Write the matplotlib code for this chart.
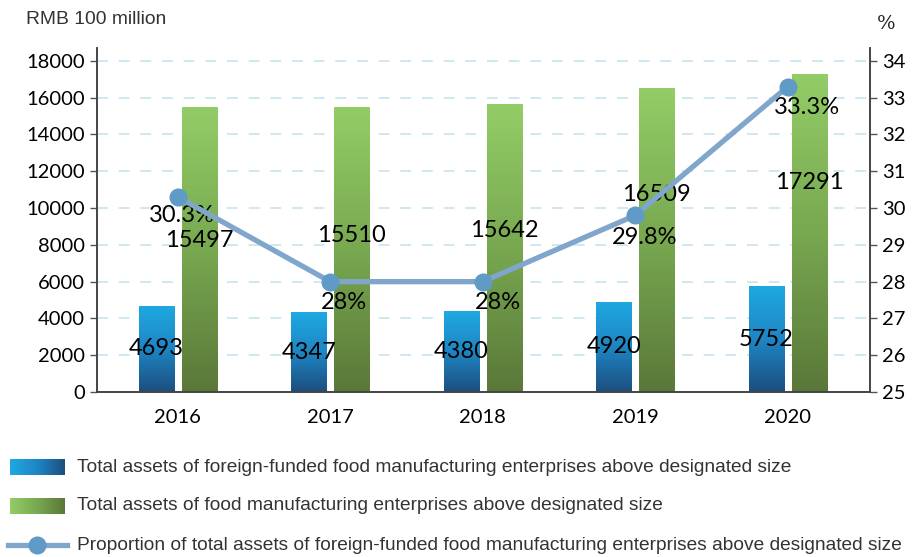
import numpy as np
import matplotlib
matplotlib.use('Agg')
import matplotlib.pyplot as plt
from matplotlib.colors import LinearSegmentedColormap
from matplotlib.lines import Line2D

years = ['2016', '2017', '2018', '2019', '2020']
foreign_assets = [4693, 4347, 4380, 4920, 5752]
total_assets = [15497, 15510, 15642, 16509, 17291]
proportion = [30.3, 28, 28, 29.8, 33.3]
# where the green value labels sit, as fraction of the bar height
total_label_frac = [0.533, 0.55, 0.563, 0.649, 0.66]
# offsets (points) of the percent labels from their markers
pct_dx = [3, 10, 11, 7, 14]
pct_dy = [-13, -15, -15, -16, -15]

legend_labels = [
    'Total assets of foreign-funded food manufacturing enterprises above designated size',
    'Total assets of food manufacturing enterprises above designated size',
    'Proportion of total assets of foreign-funded food manufacturing enterprises above designated size',
]

num_font = 'Lato'
txt_font = 'Liberation Sans'

blue_cmap = LinearSegmentedColormap.from_list('b', ['#1c4e7e', '#1e86c4', '#1fa9e1'])
green_cmap = LinearSegmentedColormap.from_list('g', ['#5a7839', '#78a850', '#93cd67'])


def gradient_bars(ax, bars, cmap):
    grad = np.linspace(0, 1, 256).reshape(-1, 1)
    for b in bars:
        x0, y0 = b.get_x(), b.get_y()
        w, h = b.get_width(), b.get_height()
        im = ax.imshow(grad, cmap=cmap, origin='lower', aspect='auto',
                       extent=[x0, x0 + w, y0, y0 + h], zorder=b.get_zorder())
        im.set_clip_path(b)
        b.set_facecolor('none')


fig = plt.figure(figsize=(9.2, 5.57), dpi=100)
ax = fig.add_axes([0.1054, 0.2962, 0.8403, 0.6176])
ax2 = ax.twinx()

x = np.arange(len(years))
w = 0.23
off = 0.141

for yv in np.arange(2000, 18001, 2000):
    ax.axhline(yv, color='#cbe6ee', lw=1.3, ls=(0, (6, 6)), zorder=0)

b1 = ax.bar(x - off, foreign_assets, w, zorder=2)
b2 = ax.bar(x + off, total_assets, w, zorder=2)
gradient_bars(ax, b1, blue_cmap)
gradient_bars(ax, b2, green_cmap)
ax.set_xlim(-0.53, 4.54)
ax.set_ylim(0, 18700)
ax.set_yticks(np.arange(0, 18001, 2000))

for i in range(len(years)):
    ax.text(x[i] - off, foreign_assets[i] / 2, str(foreign_assets[i]),
            ha='center', va='center', fontsize=17, family=num_font, zorder=5)
    ax.text(x[i] + off, total_assets[i] * total_label_frac[i], str(total_assets[i]),
            ha='center', va='center', fontsize=17, family=num_font, zorder=5)

ax2.set_ylim(25, 34.35)
ax2.set_yticks(np.arange(25, 35, 1))
ax2.plot(x, proportion, color='#80a6cc', lw=3.8, marker='o', ms=12,
         mfc='#5f9bc6', mec='#5f9bc6', zorder=4)
for i in range(len(years)):
    lab = ('%g' % proportion[i]) + '%'
    ax2.annotate(lab, (x[i], proportion[i]), xytext=(pct_dx[i], pct_dy[i]),
                 textcoords='offset points', ha='center', va='center',
                 fontsize=17, family=num_font)

ax.set_xticks(x)
ax.set_xticklabels(years)
ax.tick_params(axis='x', length=0, pad=12, labelsize=14.5)
ax.tick_params(axis='y', length=5, width=1, labelsize=14.5, color='#555555')
ax2.tick_params(axis='y', length=5, width=1, labelsize=14.5, color='#555555')
for lbl in ax.get_xticklabels() + ax.get_yticklabels() + ax2.get_yticklabels():
    lbl.set_family(num_font)

for a in (ax, ax2):
    a.spines['top'].set_visible(False)
    for s in ('left', 'right', 'bottom'):
        a.spines[s].set_color('#444444')
        a.spines[s].set_linewidth(1.2)

fig.text(26 / 920, 1 - 20 / 557, 'RMB 100 million', ha='left', va='center',
         fontsize=13.9, family=txt_font, color='#333333')
fig.text(886 / 920, 1 - 24 / 557, '%', ha='center', va='center',
         fontsize=14, family='DejaVu Serif', color='#222222')

# legend, drawn by hand to match the stacked layout
leg_y = [467, 506, 545]
grad = np.linspace(0, 1, 256).reshape(1, -1)
for yy, cmap in zip(leg_y[:2], (blue_cmap, green_cmap)):
    lax = fig.add_axes([10 / 920, 1 - (yy + 8) / 557, 55 / 920, 16 / 557])
    lax.imshow(grad[:, ::-1], cmap=cmap, aspect='auto')
    lax.axis('off')
lx = [8 / 920, 67 / 920]
ly = 1 - leg_y[2] / 557
fig.add_artist(Line2D(lx, [ly, ly], color='#80a6cc', lw=3.8))
fig.add_artist(Line2D([37.5 / 920], [ly], marker='o', ms=12, color='#5f9bc6'))
for yy, lab in zip(leg_y, legend_labels):
    fig.text(77 / 920, 1 - yy / 557, lab, ha='left', va='center',
             fontsize=13.75, family=txt_font, color='#333333')

fig.savefig('out.png', dpi=100)
